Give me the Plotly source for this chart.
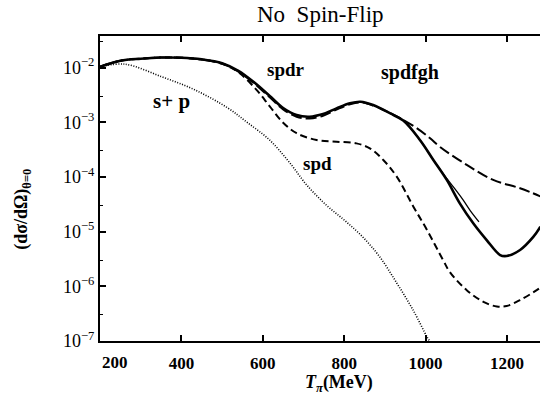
import plotly.graph_objects as go

# ---- data ----
T_full = [200, 250, 300, 350, 400, 450, 500, 540, 580, 617, 650, 683, 715, 748, 781,
          814, 840, 871, 912, 945, 986, 1019, 1052, 1084, 1117, 1150, 1183, 1199,
          1232, 1265, 1282]
full_vals = [1.03e-2, 1.33e-2, 1.45e-2, 1.52e-2, 1.51e-2, 1.41e-2, 1.20e-2, 8.7e-3,
             5.25e-3, 3.02e-3, 1.82e-3, 1.35e-3, 1.26e-3, 1.41e-3, 1.79e-3, 2.22e-3,
             2.37e-3, 2.06e-3, 1.46e-3, 1.07e-3, 4.73e-4, 2.04e-4, 8.8e-5, 3.29e-5,
             1.42e-5, 7.0e-6, 3.73e-6, 3.58e-6, 4.61e-6, 8.07e-6, 1.23e-5]

T_thin = [912, 945, 986, 1019, 1043, 1070, 1092, 1110, 1131]
thin_vals = [1.46e-3, 1.07e-3, 4.73e-4, 2.04e-4, 1.15e-4, 6.3e-5, 3.8e-5, 2.4e-5, 1.51e-5]

T_spdr = [200, 250, 300, 350, 400, 450, 500, 540, 580, 617, 650, 683, 715, 748, 781,
          814, 840, 871, 912, 945, 978, 1011, 1035, 1101, 1166, 1232, 1282]
spdr_vals = [1.03e-2, 1.33e-2, 1.45e-2, 1.52e-2, 1.51e-2, 1.40e-2, 1.18e-2, 8.4e-3,
             5.0e-3, 2.85e-3, 1.72e-3, 1.26e-3, 1.17e-3, 1.31e-3, 1.70e-3, 2.13e-3,
             2.30e-3, 2.02e-3, 1.48e-3, 1.1e-3, 7.8e-4, 5.1e-4, 3.55e-4, 1.66e-4,
             8.8e-5, 6.2e-5, 4.4e-5]

T_spd = [200, 250, 300, 350, 400, 450, 500, 540, 584, 617, 650, 683, 732, 781, 830,
         863, 896, 929, 970, 1002, 1043, 1060, 1101, 1142, 1175, 1199, 1232, 1273, 1282]
spd_vals = [1.03e-2, 1.33e-2, 1.45e-2, 1.52e-2, 1.51e-2, 1.40e-2, 1.17e-2, 8.2e-3,
            3.95e-3, 1.95e-3, 9.8e-4, 6.3e-4, 4.73e-4, 4.4e-4, 4.1e-4, 3.33e-4,
            2.04e-4, 1.01e-4, 2.85e-5, 1.12e-5, 3.0e-6, 1.8e-6, 8.5e-7, 5.2e-7,
            4.27e-7, 4.37e-7, 5.6e-7, 8.5e-7, 9.5e-7]

T_sp = [200, 261, 351, 433, 514, 561, 617, 667, 708, 757, 802, 846, 887, 929, 969,
        1004, 1010]
sp_vals = [1.03e-2, 1.15e-2, 6.8e-3, 3.9e-3, 1.82e-3, 1.0e-3, 4.7e-4, 1.78e-4,
           7.1e-5, 3.0e-5, 1.58e-5, 7.9e-6, 3.47e-6, 1.15e-6, 3.7e-7, 1.17e-7, 1.0e-7]

x_ticks = [400, 600, 800, 1000, 1200]
y_ticks = [1e-7, 1e-6, 1e-5, 1e-4, 1e-3, 1e-2]
y_tick_text = ["10<sup>−7</sup>", "10<sup>−6</sup>", "10<sup>−5</sup>",
               "10<sup>−4</sup>", "10<sup>−3</sup>", "10<sup>−2</sup>"]

SERIF = "Liberation Serif"

fig = go.Figure()
fig.add_trace(go.Scatter(x=T_sp, y=sp_vals, mode="lines", line_shape="spline",
                         line=dict(color="black", width=1.6, dash="1px,1.6px")))
fig.add_trace(go.Scatter(x=T_spd, y=spd_vals, mode="lines", line_shape="spline",
                         line=dict(color="black", width=2, dash="7px,4px")))
fig.add_trace(go.Scatter(x=T_spdr, y=spdr_vals, mode="lines", line_shape="spline",
                         line=dict(color="black", width=2, dash="11px,4px")))
fig.add_trace(go.Scatter(x=T_thin, y=thin_vals, mode="lines", line_shape="spline",
                         line=dict(color="black", width=1.3)))
fig.add_trace(go.Scatter(x=T_full, y=full_vals, mode="lines", line_shape="spline",
                         line=dict(color="black", width=2.6)))

font_lbl = dict(family=SERIF, size=19, color="black")
C = dict(showarrow=False, xanchor="center", yanchor="middle")
annotations = [
    dict(x=656, y=-2.03, xref="x", yref="y", text="<b>spdr</b>", font=font_lbl, **C),
    dict(x=961, y=-2.10, xref="x", yref="y", text="<b>spdfgh</b>",
         font=dict(family=SERIF, size=20, color="black"), **C),
    dict(x=376, y=-2.61, xref="x", yref="y", text="<b>s+ p</b>",
         font=dict(family=SERIF, size=21, color="black"), **C),
    dict(x=735, y=-3.75, xref="x", yref="y", text="<b>spd</b>", font=font_lbl, **C),
    dict(x=0.5, y=1.072, xref="paper", yref="paper", text="No  Spin-Flip",
         font=dict(family=SERIF, size=23, color="black"), **C),
    dict(x=0.543, y=-0.138, xref="paper", yref="paper",
         text="<b><i>T</i><sub><i>π</i></sub>(MeV)</b>",
         font=dict(family=SERIF, size=18, color="black"), **C),
    dict(x=-0.175, y=0.43, xref="paper", yref="paper", text="<b>(dσ/dΩ)<sub>θ=0</sub></b>",
         textangle=-90, font=dict(family=SERIF, size=18, color="black"), **C),
    dict(x=0.034, y=-0.07, xref="paper", yref="paper", text="<b>200</b>",
         font=dict(family=SERIF, size=17, color="black"), **C),
]

fig.update_layout(
    width=540, height=395,
    margin=dict(l=100, r=0, t=36, b=54),
    paper_bgcolor="white", plot_bgcolor="white",
    showlegend=False,
    annotations=annotations,
    font=dict(family=SERIF, color="black"),
)
fig.update_xaxes(range=[200, 1281], tickvals=x_ticks, ticktext=[f"<b>{v}</b>" for v in x_ticks],
                 showgrid=False, zeroline=False, showline=True, linewidth=2, linecolor="black",
                 mirror="ticks", ticks="inside", ticklen=6, tickwidth=1.5, tickcolor="black",
                 ticklabelstandoff=6,
                 tickfont=dict(family=SERIF, size=17, color="black"))
fig.update_yaxes(type="log", range=[-7, -1.424], tickvals=y_ticks, ticktext=y_tick_text,
                 showgrid=False, zeroline=False, showline=True, linewidth=2, linecolor="black",
                 ticks="inside", ticklen=6, tickwidth=1.5, tickcolor="black",
                 minor=dict(ticks="inside", ticklen=3, tickwidth=1, tickcolor="black",
                            tickvals=[3e-7, 3e-6, 3e-5, 3e-4, 3e-3, 3e-2], showgrid=False),
                 tickfont=dict(family=SERIF, size=18, color="black"))

fig.write_html("out.html")
